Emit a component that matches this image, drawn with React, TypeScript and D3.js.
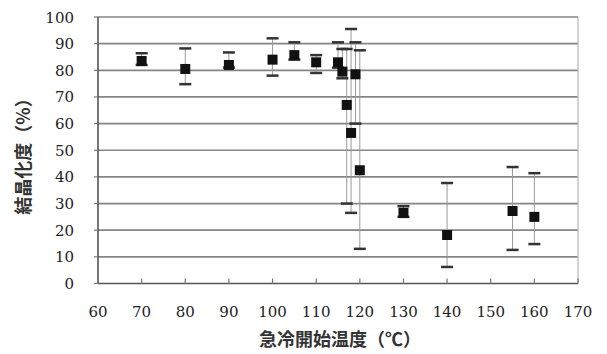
import React, { useRef, useEffect } from 'react';
import * as d3 from 'd3';

// 急冷開始温度 (℃) vs 結晶化度 (%)
const temps = [70, 80, 90, 100, 105, 110, 115, 116, 117, 118, 119, 120, 130, 140, 155, 160];
const means = [83.5, 80.5, 82, 84, 85.7, 83, 83, 79.5, 67, 56.5, 78.5, 42.5, 26.5, 18.2, 27.2, 25];
const uppers = [86.4, 88.2, 86.7, 92, 90.5, 85.7, 90.5, 88, 88, 95.5, 90.5, 87.5, 29, 37.7, 43.7, 41.4];
const lowers = [82, 74.8, 81, 78, 84, 79, 81, 77, 30, 26.5, 60, 13, 25, 6.2, 12.6, 14.8];
const xTicks = [60, 70, 80, 90, 100, 110, 120, 130, 140, 150, 160, 170];
const yTicks = [0, 10, 20, 30, 40, 50, 60, 70, 80, 90, 100];

const App = () => {
  const ref = useRef<SVGSVGElement>(null);

  useEffect(() => {
    d3.select(ref.current).selectAll('*').remove();
    const width = 607, height = 354;
    const svg = d3.select(ref.current);

    const x = d3.scaleLinear().domain([60, 170]).range([98, 578]);
    const y = d3.scaleLinear().domain([0, 100]).range([283.5, 17]);

    // gridlines
    svg.append('g').selectAll('line').data(yTicks.filter(d => d > 0)).join('line')
      .attr('x1', x(60)).attr('x2', x(170))
      .attr('y1', d => y(d)).attr('y2', d => y(d))
      .attr('stroke', '#858585').attr('stroke-width', 1.7);

    // right border
    svg.append('line')
      .attr('x1', x(170)).attr('x2', x(170)).attr('y1', y(100)).attr('y2', y(0))
      .attr('stroke', '#b5b5b5').attr('stroke-width', 1.2);

    // axes lines
    svg.append('line')
      .attr('x1', x(60)).attr('x2', x(60)).attr('y1', y(100)).attr('y2', y(0))
      .attr('stroke', '#555').attr('stroke-width', 1.6);
    svg.append('line')
      .attr('x1', x(60)).attr('x2', x(170)).attr('y1', y(0)).attr('y2', y(0))
      .attr('stroke', '#555').attr('stroke-width', 1.6);

    // ticks
    svg.append('g').selectAll('line').data(xTicks).join('line')
      .attr('x1', d => x(d)).attr('x2', d => x(d))
      .attr('y1', y(0)).attr('y2', y(0) - 5)
      .attr('stroke', '#777').attr('stroke-width', 1.2);
    svg.append('g').selectAll('line').data(yTicks).join('line')
      .attr('x1', x(60) - 4).attr('x2', x(60))
      .attr('y1', d => y(d)).attr('y2', d => y(d))
      .attr('stroke', '#777').attr('stroke-width', 1.2);

    // tick labels
    svg.append('g').selectAll('text').data(yTicks).join('text')
      .attr('x', 74).attr('y', d => y(d) + 5.5)
      .attr('text-anchor', 'end')
      .attr('font-family', 'DejaVu Serif').attr('font-size', '15px')
      .attr('fill', '#222')
      .text(d => d);
    svg.append('g').selectAll('text').data(xTicks).join('text')
      .attr('x', d => x(d)).attr('y', 317)
      .attr('text-anchor', 'middle')
      .attr('font-family', 'DejaVu Serif').attr('font-size', '15px')
      .attr('fill', '#222')
      .text(d => d);

    // axis titles
    svg.append('text')
      .attr('x', 340).attr('y', 346)
      .attr('text-anchor', 'middle')
      .attr('font-family', 'Noto Sans CJK JP').attr('font-size', '18px')
      .attr('font-weight', 'bold')
      .attr('fill', '#333')
      .text('急冷開始温度（℃）');
    svg.append('text')
      .attr('transform', `translate(30, 152) rotate(-90)`)
      .attr('text-anchor', 'middle')
      .attr('font-family', 'Noto Sans CJK JP').attr('font-size', '18px')
      .attr('font-weight', 'bold')
      .attr('fill', '#333')
      .text('結晶化度（%）');

    const data = temps.map((t, i) => ({ t, m: means[i], hi: uppers[i], lo: lowers[i] }));

    // error bars
    const eb = svg.append('g');
    eb.selectAll('line.v').data(data).join('line')
      .attr('class', 'v')
      .attr('x1', d => x(d.t)).attr('x2', d => x(d.t))
      .attr('y1', d => y(d.hi)).attr('y2', d => y(d.lo))
      .attr('stroke', '#9a9a9a').attr('stroke-width', 1);
    eb.selectAll('line.hi').data(data).join('line')
      .attr('class', 'hi')
      .attr('x1', d => x(d.t) - 6).attr('x2', d => x(d.t) + 6)
      .attr('y1', d => y(d.hi)).attr('y2', d => y(d.hi))
      .attr('stroke', '#333').attr('stroke-width', 2.5);
    eb.selectAll('line.lo').data(data).join('line')
      .attr('class', 'lo')
      .attr('x1', d => x(d.t) - 6).attr('x2', d => x(d.t) + 6)
      .attr('y1', d => y(d.lo)).attr('y2', d => y(d.lo))
      .attr('stroke', '#333').attr('stroke-width', 2.5);

    // markers
    const s = 10;
    svg.append('g').selectAll('rect').data(data).join('rect')
      .attr('x', d => x(d.t) - s / 2).attr('y', d => y(d.m) - s / 2)
      .attr('width', s).attr('height', s)
      .attr('fill', '#111');

    svg.attr('width', width).attr('height', height);
  }, []);

  return <svg ref={ref} style={{ position: 'absolute', left: 0, top: 0 }}></svg>;
};

export default App;
